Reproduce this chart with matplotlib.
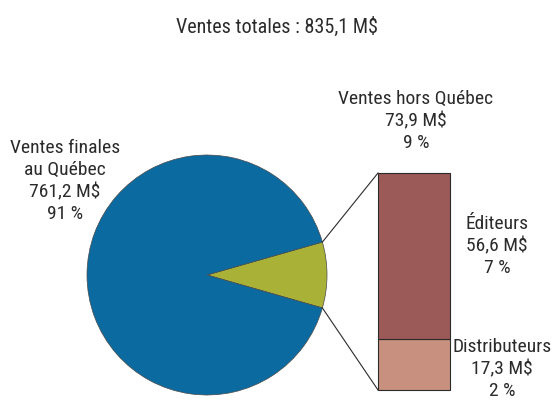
import numpy as np
import matplotlib
matplotlib.use("Agg")
import matplotlib.pyplot as plt
from matplotlib import font_manager
from matplotlib.font_manager import FontProperties

# ---- data ----
title = "Ventes totales : 835,1 M$"
pie_labels = ["Ventes hors Québec", "Ventes finales\nau Québec"]
pie_values = [73.9, 761.2]
pie_pcts = ["9 %", "91 %"]
bar_labels = ["Distributeurs", "Éditeurs"]
bar_values = [17.3, 56.6]
bar_pcts = ["2 %", "7 %"]

def fmt(v):
    return f"{v:.1f}".replace(".", ",") + " M$"

# pick a condensed sans font if available
def pick_font():
    cands = []
    for f in font_manager.fontManager.ttflist:
        nm = (f.name + " " + f.fname).lower()
        st = f.stretch
        cond = ('narrow' in nm or 'condensed' in nm or
                (isinstance(st, str) and 'condensed' in st) or
                (isinstance(st, (int, float)) and st < 500))
        if not cond:
            continue
        if f.style != 'normal':
            continue
        w = f.weight
        if isinstance(w, str):
            w = {'normal': 400, 'regular': 400, 'book': 400}.get(w, 700)
        if w not in (400,):
            continue
        pri = 5 if 'semi' in nm else 0
        if 'extra' in nm or 'ultra' in nm:
            pri += 10
        if 'liberation' in nm:
            pri -= 3
        elif 'roboto' in nm:
            pri -= 2
        if 'mono' in nm or 'serif' in nm.replace('sans', ''):
            pri += 20
        cands.append((pri, f.fname))
    cands.sort()
    return cands[0][1] if cands else None

fpath = pick_font()
fs_title, fs_lab = 14.5, 14
if fpath:
    fpt = FontProperties(fname=fpath, size=fs_title)
    fpl = FontProperties(fname=fpath, size=fs_lab)
else:
    fam = ["Liberation Sans", "DejaVu Sans"]
    plt.rcParams['font.family'] = fam
    fpt = FontProperties(family=fam, size=fs_title * 0.8)
    fpl = FontProperties(family=fam, size=fs_lab * 0.8)

W, H = 553, 403
fig = plt.figure(figsize=(W / 100, H / 100), dpi=100)
ax = fig.add_axes([0, 0, 1, 1])

txt_color = "#2b2b2b"

# pie
cx, cy, r = 207, H - 275, 120
frac = pie_values[0] / sum(pie_values)
start = -frac * 180
ax.pie(pie_values, colors=["#a9b136", "#0b6a9f"], startangle=start,
       center=(cx, cy), radius=r, frame=True,
       wedgeprops=dict(edgecolor="#4a4a4a", linewidth=0.5))
ax.set_xlim(0, W)
ax.set_ylim(0, H)
ax.set_aspect('equal')
ax.axis('off')

# bar of pie
bx0, bw = 378, 72
bbottom = H - 390
scale = 217 / sum(bar_values)
bottom = bbottom
bar_colors = ["#c8917f", "#9b5a57"]
for v, c in zip(bar_values, bar_colors):
    ax.bar(bx0, v * scale, width=bw, bottom=bottom, align='edge', color=c,
           edgecolor="#2b2b2b", linewidth=0.8)
    bottom += v * scale

# connector lines
th = np.deg2rad(frac * 180)
ax.plot([cx + r * np.cos(th), bx0], [cy + r * np.sin(th), bottom], color="#2b2b2b", lw=0.8)
ax.plot([cx + r * np.cos(th), bx0], [cy - r * np.sin(th), bbottom], color="#2b2b2b", lw=0.8)

# texts
ax.text(277, H - 27, title, ha='center', va='center', fontproperties=fpt, color=txt_color)
kw = dict(ha='center', va='center', fontproperties=fpl, color=txt_color, linespacing=1.3)
ax.text(65, H - 181, f"{pie_labels[1]}\n{fmt(pie_values[1])}\n{pie_pcts[1]}", **kw)
ax.text(416, H - 121, f"{pie_labels[0]}\n{fmt(pie_values[0])}\n{pie_pcts[0]}", **kw)
ax.text(497, H - 246, f"{bar_labels[1]}\n{fmt(bar_values[1])}\n{bar_pcts[1]}", **kw)
ax.text(502, H - 369, f"{bar_labels[0]}\n{fmt(bar_values[0])}\n{bar_pcts[0]}", **kw)

fig.savefig("out.png", dpi=100)
